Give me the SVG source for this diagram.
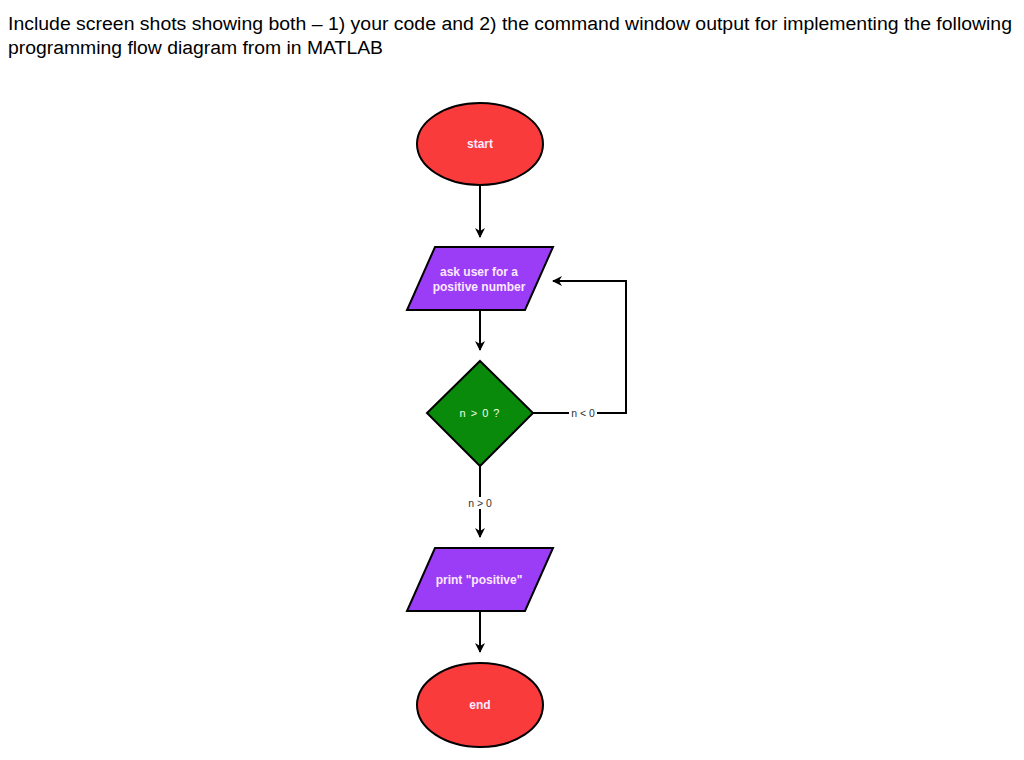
<svg xmlns="http://www.w3.org/2000/svg" width="1024" height="760" viewBox="0 0 1024 760">
<style>
.title{font-family:"Liberation Sans",Arial,sans-serif;font-size:18px;fill:#000}
.term{fill:#f93b3b;stroke:#000;stroke-width:2}
.io{fill:#9b3cf6;stroke:#000;stroke-width:2}
.dec{fill:#0a8a0a;stroke:#000;stroke-width:2}
.nl{font-family:"Liberation Sans",Arial,sans-serif;font-size:12px;font-weight:bold;fill:#fbe9ff;text-anchor:middle}
.dl{font-family:"Liberation Sans",Arial,sans-serif;font-size:11px;letter-spacing:1px;fill:#eaffea;text-anchor:middle}
.edge{fill:none;stroke:#000;stroke-width:2}
.el{font-family:"Liberation Sans",Arial,sans-serif;font-size:10.5px;fill:#333;text-anchor:middle}
</style>
<defs>
<marker id="ah" markerWidth="10" markerHeight="10" refX="9" refY="5" orient="auto" markerUnits="userSpaceOnUse">
<path d="M0,0 L10,5 L0,10 L3,5 Z" fill="#000"/>
</marker>
</defs>
<rect width="1024" height="760" fill="#fff"/>
<text class="title" x="8" y="30" textLength="1004" lengthAdjust="spacingAndGlyphs">Include screen shots showing both – 1) your code and 2) the command window output for implementing the following</text>
<text class="title" x="8" y="54" textLength="375" lengthAdjust="spacingAndGlyphs">programming flow diagram from in MATLAB</text>
<g id="connectors">
<path class="edge" d="M480,186 V237" marker-end="url(#ah)"/>
<path class="edge" d="M480,311 V350" marker-end="url(#ah)"/>
<path class="edge" d="M533,413 H626 V281 H553" marker-end="url(#ah)"/>
<rect x="569" y="407" width="28" height="12" fill="#fff"/>
<text class="el" x="583" y="417">n &lt; 0</text>
<path class="edge" d="M480,466 V537" marker-end="url(#ah)"/>
<rect x="466" y="497" width="28" height="12" fill="#fff"/>
<text class="el" x="480" y="507">n &gt; 0</text>
<path class="edge" d="M480,612 V652" marker-end="url(#ah)"/>
</g>
<g id="start">
<ellipse class="term" cx="480" cy="144" rx="63" ry="41"/>
<text class="nl" x="480" y="148">start</text>
</g>
<g id="ask">
<polygon class="io" points="435,247 553,247 525,310 407,310"/>
<text class="nl" x="479" y="276">ask user for a</text>
<text class="nl" x="479" y="291">positive number</text>
</g>
<g id="decision">
<polygon class="dec" points="480,361 533,413 480,466 427,413"/>
<text class="dl" x="480" y="417">n &gt; 0 ?</text>
</g>
<g id="print">
<polygon class="io" points="435,548 553,548 525,611 407,611"/>
<text class="nl" x="479" y="584">print "positive"</text>
</g>
<g id="end">
<ellipse class="term" cx="480" cy="705" rx="63" ry="42"/>
<text class="nl" x="480" y="709">end</text>
</g>
</svg>
